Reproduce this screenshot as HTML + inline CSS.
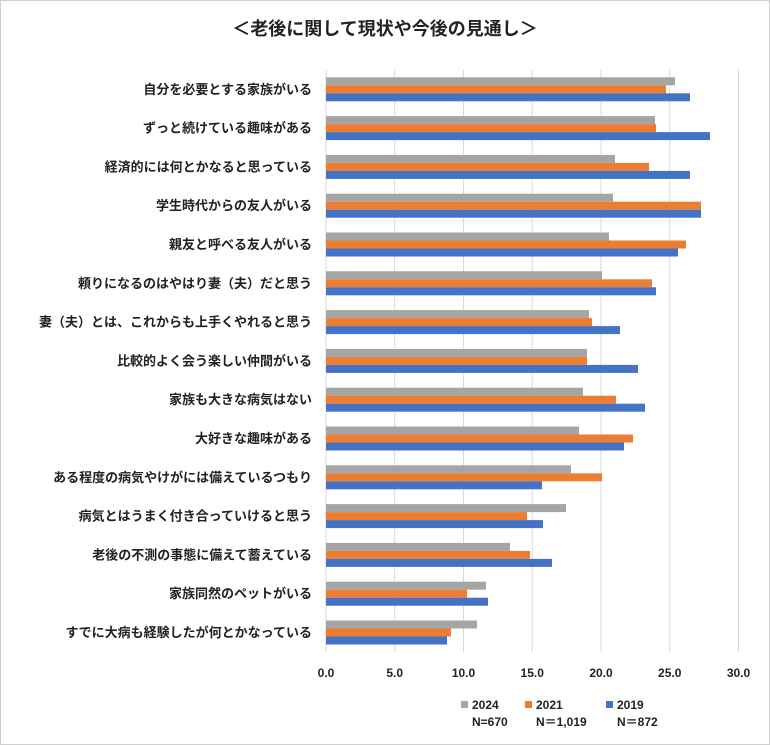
<!DOCTYPE html>
<html><head><meta charset="utf-8"><style>
body{margin:0;background:#fff}
svg{display:block}
text{font-family:"Liberation Sans","Noto Sans CJK JP",sans-serif;fill:#222}
</style></head><body>
<svg width="770" height="745" viewBox="0 0 770 745" xmlns="http://www.w3.org/2000/svg">
<rect x="0.5" y="0.5" width="769" height="744" fill="#fff" stroke="#d0d0d0"/>
<text x="385" y="35" text-anchor="middle" font-size="18" font-weight="bold">＜老後に関して現状や今後の見通し＞</text>
<g stroke="#d9d9d9" stroke-width="1">
<line x1="326" y1="70" x2="326" y2="652"/><line x1="394.7" y1="70" x2="394.7" y2="652"/>
<line x1="463.5" y1="70" x2="463.5" y2="652"/><line x1="532.2" y1="70" x2="532.2" y2="652"/>
<line x1="601" y1="70" x2="601" y2="652"/><line x1="669.7" y1="70" x2="669.7" y2="652"/>
<line x1="738.5" y1="70" x2="738.5" y2="652"/>
</g>
<g id="bars"></g>
<g font-size="12" font-weight="bold" text-anchor="middle">
<text x="326" y="677">0.0</text><text x="394.7" y="677">5.0</text><text x="463.5" y="677">10.0</text>
<text x="532.2" y="677">15.0</text><text x="601" y="677">20.0</text><text x="669.7" y="677">25.0</text><text x="738.5" y="677">30.0</text>
</g>
<g font-size="12" font-weight="bold">
<rect x="461" y="701" width="7" height="7" fill="#a5a5a5"/><text x="472" y="709">2024</text><text x="472" y="726">N=670</text>
<rect x="525" y="701" width="7" height="7" fill="#ed7d31"/><text x="536" y="709">2021</text><text x="536" y="726">N＝1,019</text>
<rect x="606" y="701" width="7" height="7" fill="#4472c4"/><text x="617" y="709">2019</text><text x="617" y="726">N＝872</text>
</g>
<g id="labels" font-size="13" font-weight="bold" text-anchor="end"></g>
</svg>
<script>
var d=[["自分を必要とする家族がいる",675,666,690],["ずっと続けている趣味がある",655,656,710],["経済的には何とかなると思っている",615,649,690],["学生時代からの友人がいる",613,701,701],["親友と呼べる友人がいる",609,686,678],["頼りになるのはやはり妻（夫）だと思う",602,652,656],["妻（夫）とは、これからも上手くやれると思う",589,592,620],["比較的よく会う楽しい仲間がいる",587,587,638],["家族も大きな病気はない",583,616,645],["大好きな趣味がある",579,633,624],["ある程度の病気やけがには備えているつもり",571,602,542],["病気とはうまく付き合っていけると思う",566,527,543],["老後の不測の事態に備えて蓄えている",510,530,552],["家族同然のペットがいる",486,467,488],["すでに大病も経験したが何とかなっている",477,451,447]];
var ns="http://www.w3.org/2000/svg",b=document.getElementById("bars"),l=document.getElementById("labels"),c=["#a5a5a5","#ed7d31","#4472c4"];
d.forEach(function(r,i){var y=77.3+i*38.8;for(var k=0;k<3;k++){var e=document.createElementNS(ns,"rect");e.setAttribute("x",326);e.setAttribute("y",y+k*8);e.setAttribute("width",r[k+1]-326);e.setAttribute("height",8);e.setAttribute("fill",c[k]);b.appendChild(e);}
var t=document.createElementNS(ns,"text");t.setAttribute("x",312);t.setAttribute("y",y+16.5);t.textContent=r[0];l.appendChild(t);});
</script>
</body></html>
